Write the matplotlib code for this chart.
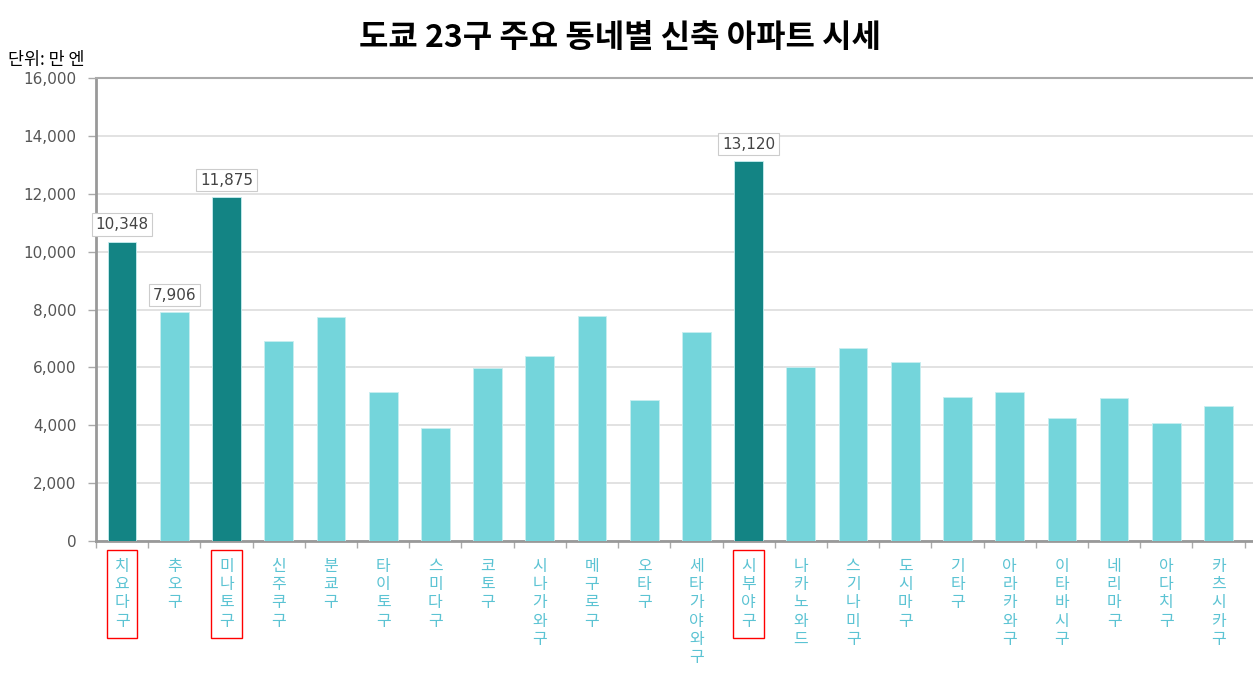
import numpy as np
import matplotlib
matplotlib.use('Agg')
from matplotlib import pyplot as plt
from matplotlib.ticker import FuncFormatter

plt.rcParams['font.family'] = ['Noto Sans CJK KR', 'DejaVu Sans']

##################
# data
##################
wards = ['치요다구', '추오구', '미나토구', '신주쿠구', '분쿄구', '타이토구', '스미다구', '코토구',
         '시나가와구', '메구로구', '오타구', '세타가야와구', '시부야구', '나카노와드', '스기나미구',
         '도시마구', '기타구', '아라카와구', '이타바시구', '네리마구', '아다치구', '카츠시카구']
prices = [10348, 7906, 11875, 6920, 7735, 5140, 3910, 5980,
          6390, 7785, 4890, 7240, 13120, 6030, 6655,
          6195, 4975, 5150, 4265, 4930, 4070, 4655]
highlight = ['치요다구', '미나토구', '시부야구']
labelled = ['치요다구', '추오구', '미나토구', '시부야구']

dark = '#138484'
light = '#74d5db'

##################
# plot
##################
fig = plt.figure(figsize=(12.53, 6.75), dpi=100)
ax = fig.add_axes([0.0766, 0.1985, 0.9234, 0.6859])

x = np.arange(len(wards))
colors = [dark if w in highlight else light for w in wards]
ax.bar(x, prices, width=0.55, color=colors, edgecolor='#c8eef0', linewidth=0.6, zorder=3)

for i, (w, p) in enumerate(zip(wards, prices)):
    if w in labelled:
        ax.annotate(f'{p:,}', (i, p), xytext=(0, 7), textcoords='offset points',
                    ha='center', va='bottom', fontsize=11, color='#444444', family='DejaVu Sans',
                    bbox=dict(boxstyle='square,pad=0.25', fc='white', ec='#cccccc', lw=0.8),
                    zorder=5)

ax.set_ylim(0, 16000)
ax.set_xlim(-0.5, 21.66)
ax.set_yticks(np.arange(0, 16001, 2000))
ax.yaxis.set_major_formatter(FuncFormatter(lambda v, _: f'{int(v):,}'))
ax.tick_params(axis='y', labelsize=11, labelcolor='#555555', color='#aaaaaa', length=6, width=1, pad=8)
for lab in ax.get_yticklabels():
    lab.set_family('DejaVu Sans')
ax.grid(axis='y', color='#dddddd', linewidth=1.2, zorder=0)

ax.set_xticks(x)
ax.set_xticklabels(['\n'.join(w) for w in wards], fontsize=11.5, color='#5bc3d3',
                   va='top', linespacing=1.1)
ax.set_xticks(np.arange(-0.5, 22, 1), minor=True)
ax.tick_params(axis='x', which='major', length=0, pad=12)
ax.tick_params(axis='x', which='minor', length=5, color='#aaaaaa', width=1)
for lab in ax.get_xticklabels():
    if lab.get_text().replace('\n', '') in highlight:
        lab.set_bbox(dict(boxstyle='square,pad=0.5', fc='none', ec='red', lw=1))

for s in ['left', 'bottom']:
    ax.spines[s].set_color('#999999')
    ax.spines[s].set_linewidth(2)
ax.spines['top'].set_color('#aaaaaa')
ax.spines['top'].set_linewidth(1.5)
ax.spines['right'].set_visible(False)

fig.text(0.495, 0.943, '도쿄 23구 주요 동네별 신축 아파트 시세', ha='center', va='center',
         fontsize=23, fontweight='bold', color='black')
fig.text(0.006, 0.911, '단위: 만 엔', ha='left', va='center', fontsize=12.5, color='black')

fig.savefig('out.png', dpi=100)
